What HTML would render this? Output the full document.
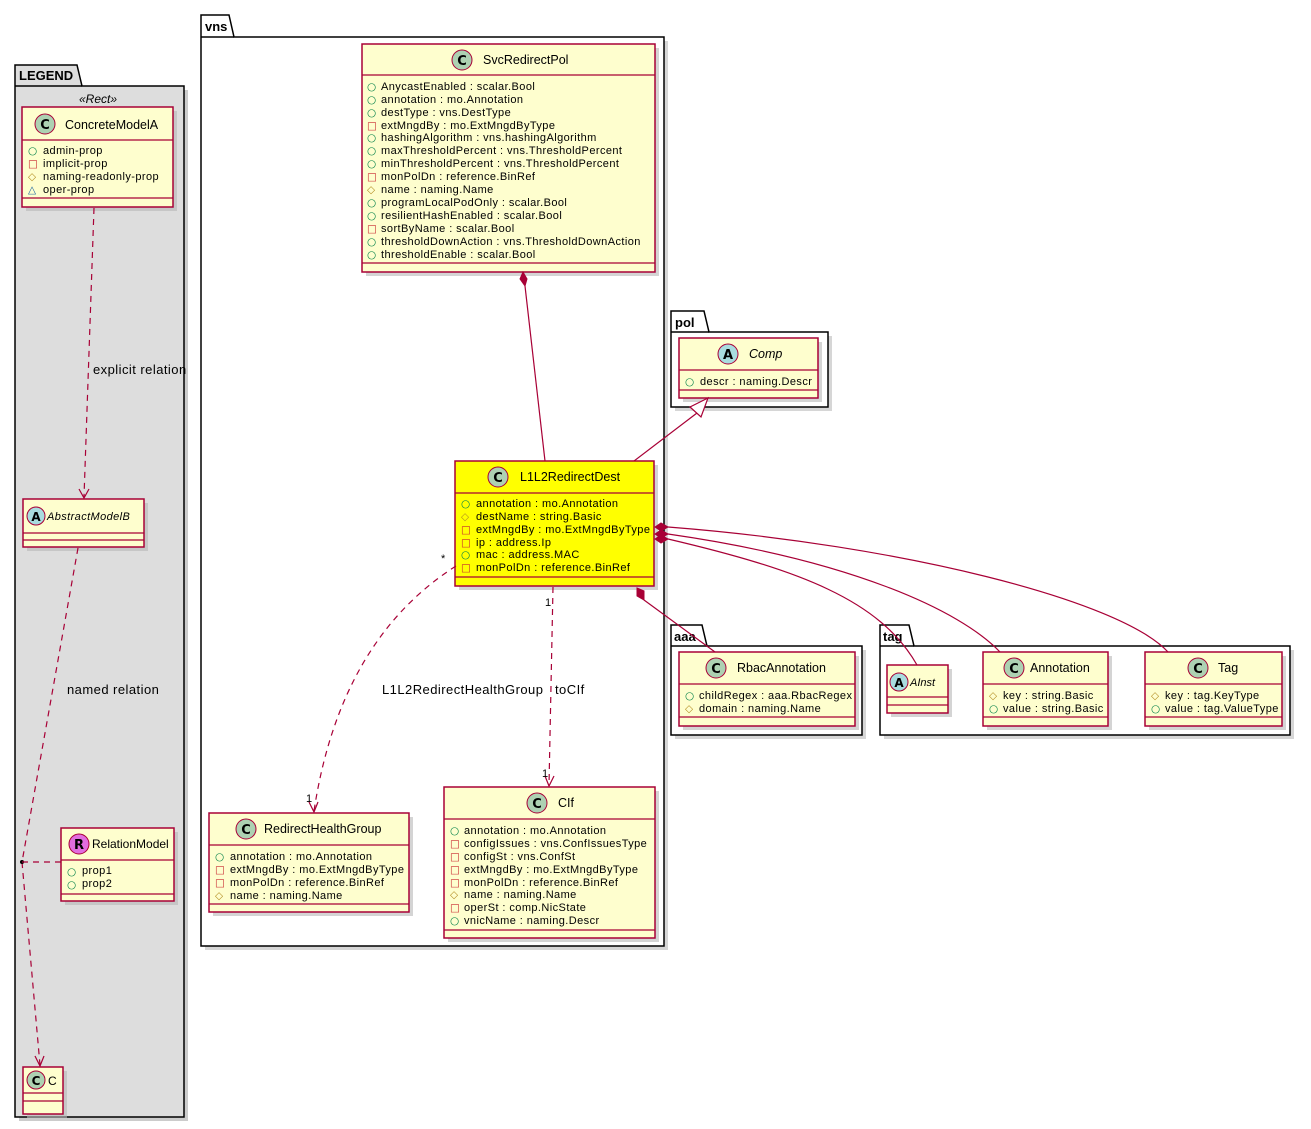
<!DOCTYPE html>
<html><head><meta charset="utf-8">
<style>
html,body{margin:0;padding:0;background:#fff;}
svg{display:block;}
text{font-family:"Liberation Sans","DejaVu Sans",sans-serif;fill:#000;}
.n{font-size:12.5px;}
.a{font-size:11px;letter-spacing:0.42px;}
.lb{font-size:13px;letter-spacing:0.45px;}
.pk{font-size:13px;font-weight:bold;}
.b{fill:#fefece;stroke:#a80036;stroke-width:1.5;}
.y{fill:#ffff00;stroke:#a80036;stroke-width:1.5;}
.sh{fill:#b8b8b8;opacity:.6;}
.ln{stroke:#a80036;stroke-width:1.2;fill:none;}
.ds{stroke:#a80036;stroke-width:1.2;fill:none;stroke-dasharray:6,5;}
.pkg{fill:#fff;stroke:#000;stroke-width:1.5;}
.ic{font-family:"DejaVu Sans",sans-serif;font-size:10.5px;letter-spacing:0;}
.g{fill:#038048;} .r{fill:#c82930;} .o{fill:#b38d22;} .bl{fill:#1963a0;}
.ci{stroke:#a80036;stroke-width:1;}
.cl{font-family:"DejaVu Sans",sans-serif;font-weight:bold;font-size:13px;text-anchor:middle;}
</style></head><body>
<svg width="1311" height="1129" viewBox="0 0 1311 1129" xmlns="http://www.w3.org/2000/svg">

<rect x="19" y="90" width="169" height="1031" fill="#999" opacity=".5"/>
<path d="M15 65 H77 L82 86 H184 V1117 H15 Z" fill="#dddddd" stroke="#000" stroke-width="1.5"/>
<path d="M15 86 H82" stroke="#000" stroke-width="1.5"/>
<text x="19" y="80" class="pk">LEGEND</text>
<text x="98" y="103" text-anchor="middle" font-style="italic" style="font-size:12px">«Rect»</text>

<rect x="26" y="111" width="151" height="100" class="sh"/>
<rect x="22" y="107" width="151" height="100" class="b"/>
<line x1="22" y1="140" x2="173" y2="140" class="ln"/>
<line x1="22" y1="198" x2="173" y2="198" class="ln"/>
<circle cx="45" cy="124" r="10" fill="#add1b2" class="ci"/><text x="45" y="129" class="cl">C</text>
<text x="65" y="129" class="n">ConcreteModelA</text>
<text x="28" y="154" class="ic g">○</text><text x="43" y="154" class="a">admin-prop</text>
<text x="28" y="167" class="ic r">□</text><text x="43" y="167" class="a">implicit-prop</text>
<text x="28" y="180" class="ic o">◇</text><text x="43" y="180" class="a">naming-readonly-prop</text>
<text x="28" y="193" class="ic bl">△</text><text x="43" y="193" class="a">oper-prop</text>

<rect x="27" y="503" width="121" height="48" class="sh"/>
<rect x="23" y="499" width="121" height="48" class="b"/>
<line x1="23" y1="533" x2="144" y2="533" class="ln"/>
<line x1="23" y1="540" x2="144" y2="540" class="ln"/>
<circle cx="36" cy="516" r="9" fill="#a9dcdf" class="ci"/><text x="36" y="521" class="cl" style="font-size:12px">A</text>
<text x="47" y="520" font-style="italic" style="font-size:11px;letter-spacing:0.4px">AbstractModelB</text>

<rect x="65" y="832" width="113" height="73" class="sh"/>
<rect x="61" y="828" width="113" height="73" class="b"/>
<line x1="61" y1="860" x2="174" y2="860" class="ln"/>
<line x1="61" y1="894" x2="174" y2="894" class="ln"/>
<circle cx="79" cy="844" r="10" fill="#e16ddf" class="ci"/><text x="79" y="849" class="cl">R</text>
<text x="92" y="848" class="n" style="font-size:12px">RelationModel</text>
<text x="67" y="875" class="ic g">○</text><text x="82" y="874" class="a">prop1</text>
<text x="67" y="888" class="ic g">○</text><text x="82" y="887" class="a">prop2</text>

<rect x="27" y="1071" width="40" height="47" class="sh"/>
<rect x="23" y="1067" width="40" height="47" class="b"/>
<line x1="23" y1="1093" x2="63" y2="1093" class="ln"/>
<line x1="23" y1="1101" x2="63" y2="1101" class="ln"/>
<circle cx="36" cy="1080" r="9" fill="#add1b2" class="ci"/><text x="36" y="1085" class="cl" style="font-size:12px">C</text>
<text x="48" y="1085" class="n" style="font-size:12px">C</text>

<path d="M94 208 L84 497" class="ds"/>
<path d="M79 489 L84 498 L89 489" class="ln"/>
<text x="93" y="374" class="lb">explicit relation</text>
<path d="M78 548 L22 862 L40 1065" class="ds"/>
<path d="M35 1056 L40 1066 L44 1056" class="ln"/>
<circle cx="22" cy="862" r="2" fill="#000"/>
<path d="M22 862 L61 862" class="ds"/>
<text x="67" y="694" class="lb">named relation</text>

<rect x="205" y="41" width="463" height="909" fill="#999" opacity=".4"/>
<path d="M201 15 H229 L234 37 H664 V946 H201 Z" class="pkg"/>
<path d="M201 37 H234" stroke="#000" stroke-width="1.5"/>
<text x="205" y="31" class="pk">vns</text>

<rect x="366" y="48" width="293" height="228" class="sh"/>
<rect x="362" y="44" width="293" height="228" class="b"/>
<line x1="362" y1="75" x2="655" y2="75" class="ln"/>
<line x1="362" y1="263" x2="655" y2="263" class="ln"/>
<circle cx="462" cy="60" r="10" fill="#add1b2" class="ci"/><text x="462" y="65" class="cl">C</text>
<text x="483" y="64" class="n">SvcRedirectPol</text>
<text x="367" y="90" class="ic g">○</text><text x="381" y="90" class="a">AnycastEnabled : scalar.Bool</text>
<text x="367" y="103" class="ic g">○</text><text x="381" y="103" class="a">annotation : mo.Annotation</text>
<text x="367" y="116" class="ic g">○</text><text x="381" y="116" class="a">destType : vns.DestType</text>
<text x="367" y="129" class="ic r">□</text><text x="381" y="129" class="a">extMngdBy : mo.ExtMngdByType</text>
<text x="367" y="141" class="ic g">○</text><text x="381" y="141" class="a">hashingAlgorithm : vns.hashingAlgorithm</text>
<text x="367" y="154" class="ic g">○</text><text x="381" y="154" class="a">maxThresholdPercent : vns.ThresholdPercent</text>
<text x="367" y="167" class="ic g">○</text><text x="381" y="167" class="a">minThresholdPercent : vns.ThresholdPercent</text>
<text x="367" y="180" class="ic r">□</text><text x="381" y="180" class="a">monPolDn : reference.BinRef</text>
<text x="367" y="193" class="ic o">◇</text><text x="381" y="193" class="a">name : naming.Name</text>
<text x="367" y="206" class="ic g">○</text><text x="381" y="206" class="a">programLocalPodOnly : scalar.Bool</text>
<text x="367" y="219" class="ic g">○</text><text x="381" y="219" class="a">resilientHashEnabled : scalar.Bool</text>
<text x="367" y="232" class="ic r">□</text><text x="381" y="232" class="a">sortByName : scalar.Bool</text>
<text x="367" y="245" class="ic g">○</text><text x="381" y="245" class="a">thresholdDownAction : vns.ThresholdDownAction</text>
<text x="367" y="258" class="ic g">○</text><text x="381" y="258" class="a">thresholdEnable : scalar.Bool</text>

<rect x="459" y="465" width="199" height="125" class="sh"/>
<rect x="455" y="461" width="199" height="125" class="y"/>
<line x1="455" y1="493" x2="654" y2="493" class="ln"/>
<line x1="455" y1="577" x2="654" y2="577" class="ln"/>
<circle cx="498" cy="477" r="10" fill="#add1b2" class="ci"/><text x="498" y="482" class="cl">C</text>
<text x="520" y="481" class="n">L1L2RedirectDest</text>
<text x="461" y="507" class="ic g">○</text><text x="476" y="507" class="a">annotation : mo.Annotation</text>
<text x="461" y="520" class="ic o">◇</text><text x="476" y="520" class="a">destName : string.Basic</text>
<text x="461" y="533" class="ic r">□</text><text x="476" y="533" class="a">extMngdBy : mo.ExtMngdByType</text>
<text x="461" y="546" class="ic r">□</text><text x="476" y="546" class="a">ip : address.Ip</text>
<text x="461" y="558" class="ic g">○</text><text x="476" y="558" class="a">mac : address.MAC</text>
<text x="461" y="571" class="ic r">□</text><text x="476" y="571" class="a">monPolDn : reference.BinRef</text>

<rect x="213" y="817" width="200" height="99" class="sh"/>
<rect x="209" y="813" width="200" height="99" class="b"/>
<line x1="209" y1="845" x2="409" y2="845" class="ln"/>
<line x1="209" y1="904" x2="409" y2="904" class="ln"/>
<circle cx="246" cy="829" r="10" fill="#add1b2" class="ci"/><text x="246" y="834" class="cl">C</text>
<text x="264" y="833" class="n">RedirectHealthGroup</text>
<text x="215" y="860" class="ic g">○</text><text x="230" y="860" class="a">annotation : mo.Annotation</text>
<text x="215" y="873" class="ic r">□</text><text x="230" y="873" class="a">extMngdBy : mo.ExtMngdByType</text>
<text x="215" y="886" class="ic r">□</text><text x="230" y="886" class="a">monPolDn : reference.BinRef</text>
<text x="215" y="899" class="ic o">◇</text><text x="230" y="899" class="a">name : naming.Name</text>

<rect x="448" y="791" width="211" height="151" class="sh"/>
<rect x="444" y="787" width="211" height="151" class="b"/>
<line x1="444" y1="819" x2="655" y2="819" class="ln"/>
<line x1="444" y1="930" x2="655" y2="930" class="ln"/>
<circle cx="537" cy="803" r="10" fill="#add1b2" class="ci"/><text x="537" y="808" class="cl">C</text>
<text x="558" y="807" class="n">CIf</text>
<text x="450" y="834" class="ic g">○</text><text x="464" y="834" class="a">annotation : mo.Annotation</text>
<text x="450" y="847" class="ic r">□</text><text x="464" y="847" class="a">configIssues : vns.ConfIssuesType</text>
<text x="450" y="860" class="ic r">□</text><text x="464" y="860" class="a">configSt : vns.ConfSt</text>
<text x="450" y="873" class="ic r">□</text><text x="464" y="873" class="a">extMngdBy : mo.ExtMngdByType</text>
<text x="450" y="886" class="ic r">□</text><text x="464" y="886" class="a">monPolDn : reference.BinRef</text>
<text x="450" y="898" class="ic o">◇</text><text x="464" y="898" class="a">name : naming.Name</text>
<text x="450" y="911" class="ic r">□</text><text x="464" y="911" class="a">operSt : comp.NicState</text>
<text x="450" y="924" class="ic g">○</text><text x="464" y="924" class="a">vnicName : naming.Descr</text>

<rect x="675" y="336" width="157" height="75" fill="#999" opacity=".4"/>
<path d="M671 311 H704 L709 332 H828 V407 H671 Z" class="pkg"/>
<path d="M671 332 H709" stroke="#000" stroke-width="1.5"/>
<text x="675" y="327" class="pk">pol</text>
<rect x="683" y="342" width="139" height="60" class="sh"/>
<rect x="679" y="338" width="139" height="60" class="b"/>
<line x1="679" y1="370" x2="818" y2="370" class="ln"/>
<line x1="679" y1="390" x2="818" y2="390" class="ln"/>
<circle cx="728" cy="354" r="10" fill="#a9dcdf" class="ci"/><text x="728" y="359" class="cl">A</text>
<text x="749" y="358" class="n" font-style="italic">Comp</text>
<text x="685" y="385" class="ic g">○</text><text x="700" y="385" class="a">descr : naming.Descr</text>

<rect x="675" y="650" width="191" height="89" fill="#999" opacity=".4"/>
<path d="M671 625 H702 L707 646 H862 V735 H671 Z" class="pkg"/>
<path d="M671 646 H707" stroke="#000" stroke-width="1.5"/>
<text x="674" y="641" class="pk">aaa</text>
<rect x="683" y="656" width="176" height="74" class="sh"/>
<rect x="679" y="652" width="176" height="74" class="b"/>
<line x1="679" y1="684" x2="855" y2="684" class="ln"/>
<line x1="679" y1="717" x2="855" y2="717" class="ln"/>
<circle cx="716" cy="668" r="10" fill="#add1b2" class="ci"/><text x="716" y="673" class="cl">C</text>
<text x="737" y="672" class="n">RbacAnnotation</text>
<text x="685" y="699" class="ic g">○</text><text x="699" y="699" class="a">childRegex : aaa.RbacRegex</text>
<text x="685" y="712" class="ic o">◇</text><text x="699" y="712" class="a">domain : naming.Name</text>

<rect x="884" y="650" width="410" height="89" fill="#999" opacity=".4"/>
<path d="M880 625 H909 L914 646 H1290 V735 H880 Z" class="pkg"/>
<path d="M880 646 H914" stroke="#000" stroke-width="1.5"/>
<text x="883" y="641" class="pk">tag</text>
<rect x="891" y="669" width="61" height="48" class="sh"/>
<rect x="887" y="665" width="61" height="48" class="b"/>
<line x1="887" y1="697" x2="948" y2="697" class="ln"/>
<line x1="887" y1="705" x2="948" y2="705" class="ln"/>
<circle cx="899" cy="682" r="9" fill="#a9dcdf" class="ci"/><text x="899" y="687" class="cl" style="font-size:12px">A</text>
<text x="910" y="686" font-style="italic" style="font-size:11px">AInst</text>
<rect x="987" y="656" width="125" height="74" class="sh"/>
<rect x="983" y="652" width="125" height="74" class="b"/>
<line x1="983" y1="684" x2="1108" y2="684" class="ln"/>
<line x1="983" y1="717" x2="1108" y2="717" class="ln"/>
<circle cx="1014" cy="668" r="10" fill="#add1b2" class="ci"/><text x="1014" y="673" class="cl">C</text>
<text x="1030" y="672" class="n">Annotation</text>
<text x="989" y="699" class="ic o">◇</text><text x="1003" y="699" class="a">key : string.Basic</text>
<text x="989" y="712" class="ic g">○</text><text x="1003" y="712" class="a">value : string.Basic</text>
<rect x="1149" y="656" width="137" height="74" class="sh"/>
<rect x="1145" y="652" width="137" height="74" class="b"/>
<line x1="1145" y1="684" x2="1282" y2="684" class="ln"/>
<line x1="1145" y1="717" x2="1282" y2="717" class="ln"/>
<circle cx="1198" cy="668" r="10" fill="#add1b2" class="ci"/><text x="1198" y="673" class="cl">C</text>
<text x="1218" y="672" class="n">Tag</text>
<text x="1151" y="699" class="ic o">◇</text><text x="1165" y="699" class="a">key : tag.KeyType</text>
<text x="1151" y="712" class="ic g">○</text><text x="1165" y="712" class="a">value : tag.ValueType</text>

<path d="M525 286 L545 461" class="ln"/>
<path d="M523 272 L527 279 L525 286 L520 279 Z" fill="#a80036" stroke="#a80036"/>
<path d="M634 461 L697 413" class="ln"/>
<path d="M708 398 L690 407 L701 417 Z" fill="#fff" stroke="#a80036" stroke-width="1.2"/>
<path d="M456 566 Q340 640 314 811" class="ds"/>
<path d="M309 802 L314 812 L318 802" class="ln"/>
<text x="441" y="562" style="font-size:11px">*</text>
<text x="306" y="802" style="font-size:11px">1</text>
<text x="382" y="694" class="lb">L1L2RedirectHealthGroup</text>
<path d="M553 587 L549 785" class="ds"/>
<path d="M545 776 L549 786 L554 776" class="ln"/>
<text x="545" y="606" style="font-size:11px">1</text>
<text x="542" y="777" style="font-size:11px">1</text>
<text x="555" y="694" class="lb">toCIf</text>
<path d="M644 600 L715 652" class="ln"/>
<path d="M637 588 L644 591 L644 600 L637 596 Z" fill="#a80036" stroke="#a80036"/>
<path d="M668 539 C800 570 880 600 917 665" class="ln"/>
<path d="M668 534 C850 560 960 610 1000 652" class="ln"/>
<path d="M668 527 C900 545 1120 600 1168 652" class="ln"/>
<path d="M655 539 L661 535 L668 539 L661 543 Z" fill="#a80036" stroke="#a80036"/>
<path d="M655 534 L661 530 L668 534 L661 538 Z" fill="#a80036" stroke="#a80036"/>
<path d="M655 527 L661 523 L668 527 L661 531 Z" fill="#a80036" stroke="#a80036"/>
</svg>
</body></html>
